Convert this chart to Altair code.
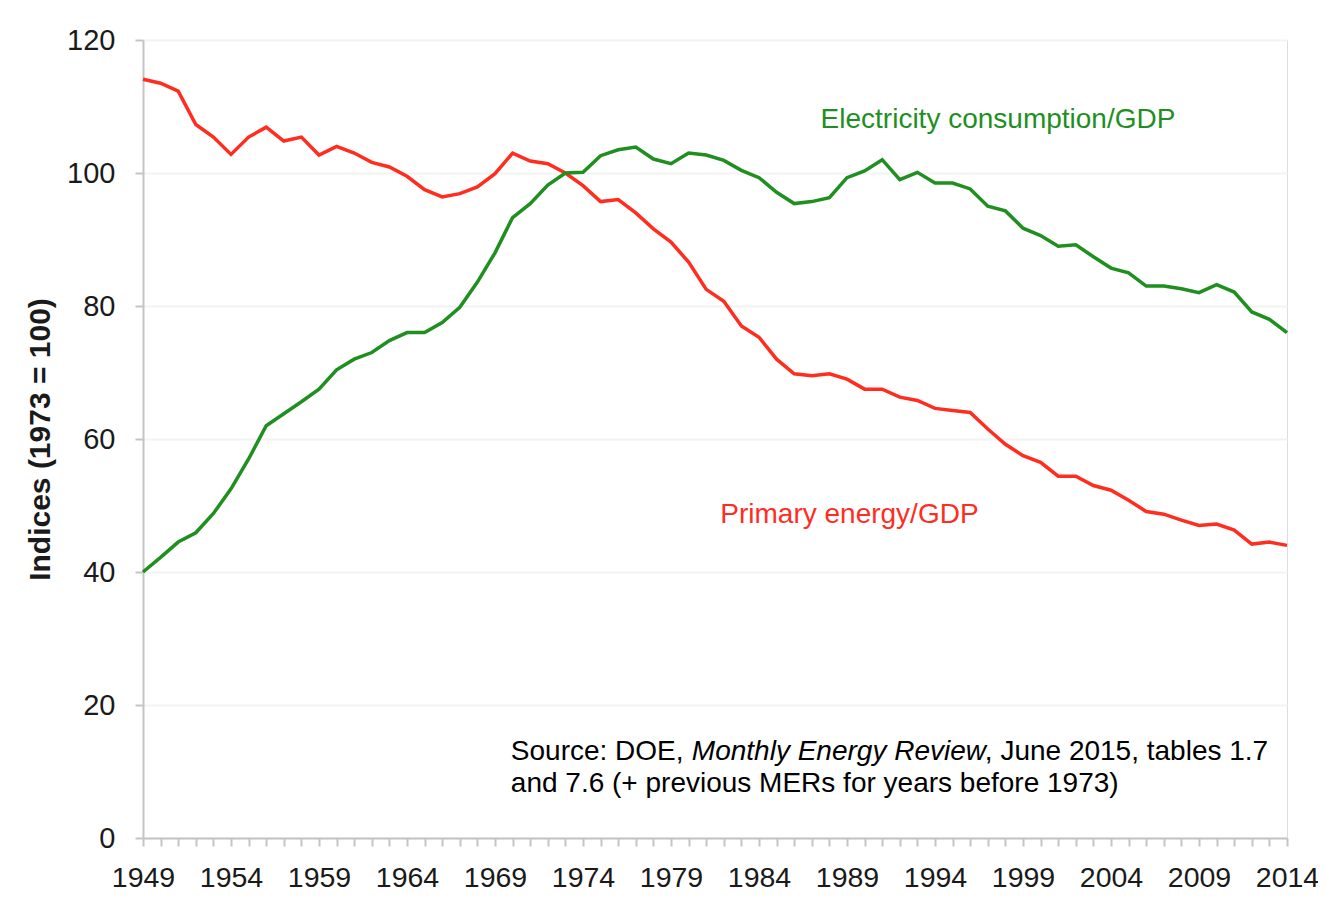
import altair as alt
import pandas as pd

years = list(range(1949, 2015))

primary_energy_gdp = [
    114.1, 113.5, 112.3, 107.3, 105.4, 102.8, 105.4, 106.9, 104.8, 105.4,
    102.7, 104.0, 103.0, 101.6, 100.9, 99.5, 97.5, 96.4, 96.9, 97.9,
    99.9, 103.0, 101.8, 101.4, 100.0, 98.1, 95.7, 96.0, 94.0, 91.6,
    89.6, 86.6, 82.5, 80.7, 77.0, 75.3, 72.0, 69.8, 69.5, 69.8,
    69.0, 67.5, 67.5, 66.3, 65.8, 64.6, 64.3, 64.0, 61.5, 59.2,
    57.5, 56.5, 54.4, 54.4, 53.0, 52.3, 50.8, 49.1, 48.7, 47.8,
    47.0, 47.2, 46.3, 44.2, 44.5, 44.0,
]

electricity_gdp = [
    40.0, 42.2, 44.5, 45.9, 48.8, 52.5, 57.0, 62.0, 63.8, 65.6,
    67.5, 70.4, 72.0, 73.0, 74.8, 76.0, 76.0, 77.5, 79.8, 83.6,
    88.0, 93.3, 95.4, 98.2, 100.0, 100.1, 102.6, 103.5, 103.9, 102.1,
    101.4, 103.0, 102.7, 101.9, 100.4, 99.3, 97.1, 95.4, 95.7, 96.3,
    99.3, 100.3, 102.0, 99.0, 100.1, 98.5, 98.5, 97.6, 95.0, 94.3,
    91.7, 90.6, 89.0, 89.2, 87.4, 85.7, 85.0, 83.0, 83.0, 82.6,
    82.0, 83.2, 82.1, 79.1, 78.0, 76.0,
]

series_names = ["Primary energy/GDP", "Electricity consumption/GDP"]
line_colors = ["#ff2d1f", "#1f8f1f"]
text_colors = ["#ff1414", "#1a7d12"]

y_ticks = [0, 20, 40, 60, 80, 100, 120]
x_ticks = years

# annotation positions (data coordinates)
label_years = [1981.8, 1987.5]
label_values = [48.6, 108.0]

source_year = 1969.9
source_values = [12.9, 8.1]
source_line1 = ["Source: DOE,", "Monthly Energy Review", ", June 2015, tables 1.7"]
source_line2 = "and 7.6 (+ previous MERs for years before 1973)"

df = pd.DataFrame({
    "year": years * 2,
    "value": primary_energy_gdp + electricity_gdp,
    "series": [series_names[0]] * len(years) + [series_names[1]] * len(years),
})

FONT = "Liberation Sans"

x_enc = alt.X(
    "year:Q",
    scale=alt.Scale(domain=[1949, 2014], nice=False, zero=False),
    axis=alt.Axis(
        values=x_ticks,
        tickCount=200,
        labelExpr="(datum.value - 1949) % 5 == 0 ? datum.value : ''",
        title=None,
        grid=False,
        domainColor="#c4c4c4",
        domainWidth=2,
        tickColor="#c4c4c4",
        tickWidth=2,
        tickSize=8,
        labelFont=FONT,
        labelFontSize=28.5,
        labelColor="#1a1a1a",
        labelPadding=17,
        labelFlush=False,
        labelOverlap=False,
        labelBound=False,
    ),
)

y_enc = alt.Y(
    "value:Q",
    scale=alt.Scale(domain=[0, 120], nice=False),
    axis=alt.Axis(
        values=y_ticks,
        format="d",
        title="Indices (1973 = 100)",
        titleFont=FONT,
        titleFontSize=30,
        titleFontWeight="bold",
        titleColor="#1a1a1a",
        titleAngle=-90,
        titleX=-103,
        titleY=399,
        titleAlign="center",
        titleBaseline="middle",
        grid=True,
        gridColor="#f3f3f3",
        gridWidth=2,
        domainColor="#c4c4c4",
        domainWidth=2,
        tickColor="#c4c4c4",
        tickWidth=2,
        tickSize=8,
        labelFont=FONT,
        labelFontSize=29,
        labelColor="#1a1a1a",
        labelPadding=20,
    ),
)

lines = alt.Chart(df).mark_line(strokeWidth=3.5).encode(
    x=x_enc,
    y=y_enc,
    color=alt.Color(
        "series:N",
        scale=alt.Scale(domain=series_names, range=line_colors),
        legend=None,
    ),
)

labels_df = pd.DataFrame({
    "year": label_years,
    "value": label_values,
    "series": series_names,
})
labels = alt.Chart(labels_df).mark_text(
    align="left", baseline="middle", font=FONT, fontSize=28
).encode(
    x="year:Q",
    y="value:Q",
    text="series:N",
    color=alt.Color(
        "series:N",
        scale=alt.Scale(domain=series_names, range=text_colors),
        legend=None,
    ),
)

def src_text(txt, val, dx, italic=False):
    d = pd.DataFrame({"year": [source_year], "value": [val], "t": [txt]})
    return alt.Chart(d).mark_text(
        align="left", baseline="middle", font=FONT, fontSize=28,
        color="#000000", dx=dx, fontStyle="italic" if italic else "normal",
    ).encode(x="year:Q", y="value:Q", text="t:N")

src1a = src_text(source_line1[0], source_values[0], 0)
src1b = src_text(source_line1[1], source_values[0], 181, italic=True)
src1c = src_text(source_line1[2], source_values[0], 474)
src2 = src_text(source_line2, source_values[1], 0)

chart = alt.layer(lines, labels, src1a, src1b, src1c, src2).properties(
    width=1144,
    height=798,
    autosize=alt.AutoSizeParams(type="none"),
    padding={"left": 135, "top": 32, "right": 31, "bottom": 54},
).configure_view(stroke=None).configure(background="white")

chart.save("out.html", embed_options={"renderer": "svg", "actions": False})
